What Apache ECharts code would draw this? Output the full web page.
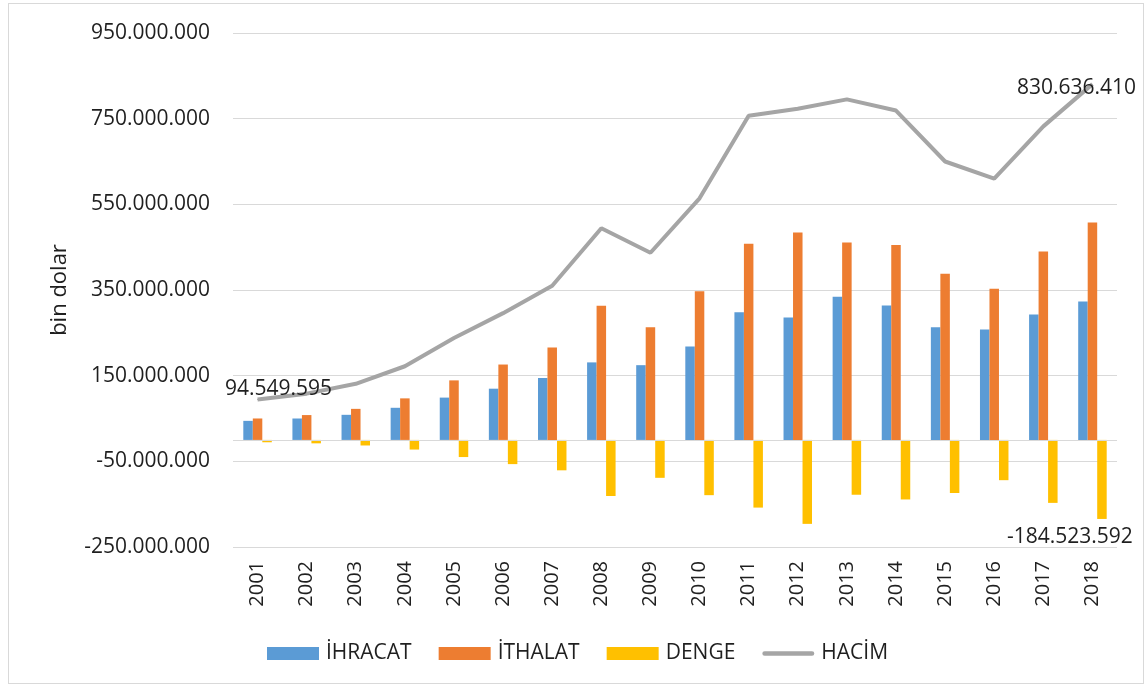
<!DOCTYPE html>
<html>
<head>
<meta charset="utf-8">
<title>Dış ticaret 2001-2018</title>
<script src="https://cdn.jsdelivr.net/npm/echarts@6/dist/echarts.min.js"></script>
<style>
  html, body { margin: 0; padding: 0; background: #fff; }
  #chart { width: 1148px; height: 685px; }
  .frame { position: absolute; left: 8px; top: 3px; width: 1134px; height: 679px; border: 1px solid #d9d9d9; pointer-events: none; }
</style>
</head>
<body>
<div id="chart"></div>
<div class="frame"></div>
<script>
// yıllar
const YEARS = ['2001', '2002', '2003', '2004', '2005', '2006', '2007', '2008', '2009',
  '2010', '2011', '2012', '2013', '2014', '2015', '2016', '2017', '2018']

// bin dolar
const IHRACAT = [44500000, 50000000, 58600000, 75000000, 98800000, 119600000, 144500000, 181000000, 174500000,
  218000000, 298000000, 286000000, 334000000, 314000000, 263000000, 258000000, 293000000, 323000000]
const ITHALAT = [50050000, 58000000, 72500000, 97000000, 139000000, 176000000, 216000000, 313000000, 263000000,
  347000000, 458000000, 484000000, 461000000, 455000000, 388000000, 353000000, 440000000, 507600000]
const DENGE = [-5500000, -8000000, -13000000, -22500000, -40000000, -56500000, -71000000, -131000000, -88500000,
  -129000000, -158000000, -196000000, -128000000, -139000000, -124000000, -94000000, -147000000, -184523592]
const HACIM = [94549595, 108000000, 131000000, 172000000, 238000000, 296000000, 360000000, 494000000, 437000000,
  564000000, 757000000, 773000000, 795000000, 769000000, 650000000, 610000000, 732000000, 830636410]

// y ekseni
const Y_MIN = -250000000
const Y_MAX = 950000000
const Y_STEP = 200000000

const FONT = 'Open Sans'
const TEXT = '#1f1f1f'

function fmt(v) {
  return String(Math.round(v)).replace(/\B(?=(\d{3})+(?!\d))/g, '.')
}

const last = YEARS.length - 1
const chart = echarts.init(document.getElementById('chart'))

chart.setOption({
  animation: false,
  textStyle: { fontFamily: FONT, color: TEXT },
  grid: { left: 233, right: 31, top: 33, bottom: 138 },
  legend: {
    left: 267,
    top: 643,
    padding: 0,
    itemWidth: 52,
    itemHeight: 13,
    itemGap: 27,
    textStyle: { fontFamily: FONT, fontSize: 21, color: TEXT, padding: [0, 0, 0, 2] },
    data: [
      { name: 'İHRACAT', icon: 'rect' },
      { name: 'İTHALAT', icon: 'rect' },
      { name: 'DENGE', icon: 'rect' },
      { name: 'HACİM', icon: 'path://M2.5,0 H53.5 A2.5,2.5 0 0 1 53.5,5 H2.5 A2.5,2.5 0 0 1 2.5,0 Z' }
    ]
  },
  xAxis: {
    type: 'category',
    data: YEARS,
    axisLine: { show: false, onZero: false },
    axisTick: { show: false },
    axisLabel: { rotate: 90, margin: 14, fontSize: 20, color: TEXT, fontFamily: FONT }
  },
  yAxis: {
    type: 'value',
    min: Y_MIN,
    max: Y_MAX,
    interval: Y_STEP,
    name: 'bin dolar',
    nameLocation: 'middle',
    nameRotate: 90,
    nameGap: 162,
    nameTextStyle: { fontSize: 22, color: TEXT, fontFamily: FONT },
    axisLine: { show: false },
    axisTick: { show: false },
    splitLine: { lineStyle: { color: '#d9d9d9', width: 1 } },
    axisLabel: { margin: 23, fontSize: 21, color: TEXT, fontFamily: FONT, formatter: fmt }
  },
  series: [
    {
      name: 'İHRACAT',
      type: 'bar',
      data: IHRACAT,
      barWidth: 9.5,
      barGap: '0%',
      itemStyle: { color: '#5b9bd5' }
    },
    {
      name: 'İTHALAT',
      type: 'bar',
      data: ITHALAT,
      barWidth: 9.5,
      barGap: '0%',
      itemStyle: { color: '#ed7d31' }
    },
    {
      name: 'DENGE',
      type: 'bar',
      barWidth: 9.5,
      barGap: '0%',
      itemStyle: { color: '#ffc000' },
      data: DENGE.map((v, i) => ({
        value: v,
        label: {
          show: i === last,
          position: 'bottom',
          distance: 8,
          offset: [-32, 0],
          fontSize: 21,
          color: TEXT,
          fontFamily: FONT,
          formatter: p => fmt(p.value)
        }
      })),
      markLine: {
        silent: true,
        symbol: 'none',
        label: { show: false },
        lineStyle: { color: '#d9d9d9', type: 'solid', width: 1 },
        data: [{ yAxis: 0 }]
      }
    },
    {
      name: 'HACİM',
      type: 'line',
      symbol: 'circle',
      symbolSize: 1,
      z: 5,
      itemStyle: { color: '#a5a5a5' },
      lineStyle: { color: '#a5a5a5', width: 4 },
      data: HACIM.map((v, i) => ({
        value: v,
        label: {
          show: i === 0 || i === last,
          position: 'inside',
          offset: i === 0 ? [21, -10] : [-16, 4],
          fontSize: 21,
          color: TEXT,
          fontFamily: FONT,
          formatter: p => fmt(p.value)
        }
      }))
    }
  ]
})
</script>
</body>
</html>
